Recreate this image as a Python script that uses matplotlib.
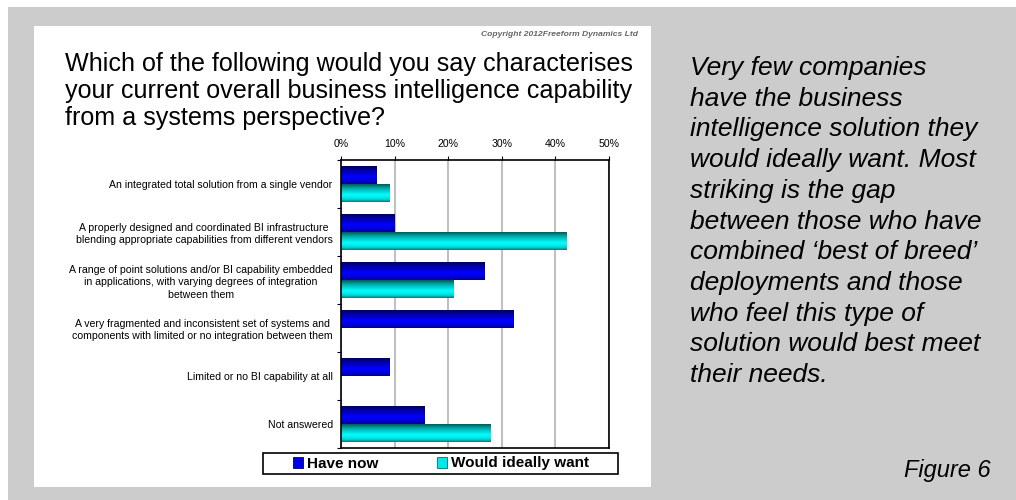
import matplotlib
matplotlib.use("Agg")
import matplotlib.pyplot as plt
import numpy as np
from matplotlib.colors import LinearSegmentedColormap
from matplotlib.patches import Rectangle

plt.rcParams['font.family'] = ['Liberation Sans', 'DejaVu Sans']

# survey answers, top to bottom
categories = [
    "An integrated total solution from a single vendor",
    "A properly designed and coordinated BI infrastructure\nblending appropriate capabilities from different vendors",
    "A range of point solutions and/or BI capability embedded\nin applications, with varying degrees of integration\nbetween them",
    "A very fragmented and inconsistent set of systems and\ncomponents with limited or no integration between them",
    "Limited or no BI capability at all",
    "Not answered",
]
have_now = [6.7, 10.0, 26.7, 32.1, 9.0, 15.5]
ideally_want = [9.0, 42.1, 21.0, 0.0, 0.0, 27.9]
x_ticks = [0, 10, 20, 30, 40, 50]

title_lines = [
    "Which of the following would you say characterises",
    "your current overall business intelligence capability",
    "from a systems perspective?",
]
side_lines = [
    "Very few companies",
    "have the business",
    "intelligence solution they",
    "would ideally want. Most",
    "striking is the gap",
    "between those who have",
    "combined \u2018best of breed\u2019",
    "deployments and those",
    "who feel this type of",
    "solution would best meet",
    "their needs.",
]

W, H = 1016, 500
fig = plt.figure(figsize=(W / 100, H / 100), dpi=100, facecolor='white')


def fx(px):
    return px / W


def fy(py):
    return 1 - py / H


# grey slide background and white chart panel
fig.patches.append(Rectangle((fx(8), 0), 1, fy(7), transform=fig.transFigure,
                             facecolor='#cccccc', edgecolor='none', zorder=-3))
fig.patches.append(Rectangle((fx(34), fy(487)), fx(651 - 34), (487 - 26) / H,
                             transform=fig.transFigure, facecolor='white',
                             edgecolor='none', zorder=-2))

ax = fig.add_axes([fx(341), fy(448), fx(609 - 341), (448 - 160) / H])
ax.set_facecolor('white')

y = np.arange(len(categories))
h = 0.375
bars_have = ax.barh(y - h / 2, have_now, height=h, color='none', zorder=2)
bars_want = ax.barh(y + h / 2, ideally_want, height=h, color='none', zorder=2)

# cylinder-like shading for each bar
blue_cm = LinearSegmentedColormap.from_list(
    'b', [(0, '#00005a'), (0.25, '#0000b0'), (0.6, '#0000ff'), (0.85, '#0000d8'), (1, '#000080')])
cyan_cm = LinearSegmentedColormap.from_list(
    'c', [(0, '#005a5a'), (0.25, '#00b0b0'), (0.6, '#00ffff'), (0.85, '#00d8d8'), (1, '#007a7a')])
grad = np.linspace(0, 1, 64).reshape(-1, 1)
for bars, cm in ((bars_have, blue_cm), (bars_want, cyan_cm)):
    for p in bars:
        if p.get_width() <= 0:
            continue
        x0, y0 = p.get_x(), p.get_y()
        im = ax.imshow(grad, cmap=cm, aspect='auto', origin='upper',
                       extent=(x0, x0 + p.get_width(), y0 + p.get_height(), y0),
                       zorder=2, interpolation='bilinear')
        im.set_clip_path(p)

ax.set_xlim(0, 50)
ax.set_ylim(len(categories) - 0.5, -0.5)

ax.xaxis.tick_top()
ax.set_xticks(x_ticks)
ax.set_xticklabels([f"{t}%" for t in x_ticks], fontsize=7.6)
ax.tick_params(axis='x', length=3, width=0.8, pad=5)
ax.grid(axis='x', color='#c0c0c0', linewidth=1.5, zorder=1)
ax.set_axisbelow(True)

ax.set_yticks(y)
ax.set_yticklabels(categories, fontsize=7.6)
for lab in ax.get_yticklabels():
    lab.set_multialignment('center')
    lab.set_linespacing(1.3)
ax.set_yticks(np.arange(len(categories) + 1) - 0.5, minor=True)
ax.tick_params(axis='y', which='major', length=0, pad=6)
ax.tick_params(axis='y', which='minor', length=3, width=0.8)

for s in ax.spines.values():
    s.set_linewidth(1.2)
    s.set_color('black')

# legend box
fig.patches.append(Rectangle((fx(263), fy(474)), fx(618 - 263), (474 - 453) / H,
                             transform=fig.transFigure, facecolor='white',
                             edgecolor='black', linewidth=1.2, zorder=1))
handles = [Rectangle((0, 0), 1, 1, facecolor='#0000e8', edgecolor='#000070', lw=0.6),
           Rectangle((0, 0), 1, 1, facecolor='#00e8e8', edgecolor='#007070', lw=0.6)]
fig.legend(handles, ["Have now", "Would ideally want"], loc='center',
           bbox_to_anchor=(fx(441), fy(463.5)), ncol=2, frameon=False,
           prop={'weight': 'bold', 'size': 11}, handlelength=0.7,
           handleheight=0.7, handletextpad=0.25, columnspacing=3.8)

fig.text(fx(638), fy(36), "Copyright 2012Freeform Dynamics Ltd", ha='right',
         va='baseline', fontsize=6.1, style='italic', weight='bold', color='#666666')

for i, line in enumerate(title_lines):
    fig.text(fx(65), fy(71 + i * 27), line, ha='left', va='baseline',
             fontsize=18.1, color='black')

for i, line in enumerate(side_lines):
    fig.text(fx(690), fy(75 + i * 30.7), line, ha='left', va='baseline',
             fontsize=19, style='italic', color='black')

fig.text(fx(991), fy(477.5), "Figure 6", ha='right', va='baseline',
         fontsize=17, style='italic', color='black')

fig.savefig('out.png', dpi=100, facecolor=fig.get_facecolor())
